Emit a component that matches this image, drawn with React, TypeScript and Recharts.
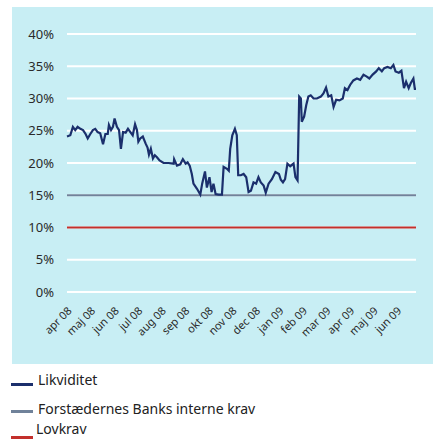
import React from 'react';
import { LineChart, Line, XAxis, YAxis, CartesianGrid, ReferenceLine } from 'recharts';

// months since start of april 2008
const MONTHS = [
  0, 0.14, 0.25, 0.35, 0.45, 0.57, 0.68, 0.79, 0.88, 0.99, 1.1, 1.2, 1.3, 1.41, 1.53, 1.63, 1.73, 1.78, 1.87, 1.95,
  2.02, 2.12, 2.21, 2.29, 2.38, 2.49, 2.59, 2.69, 2.79, 2.89, 2.97, 3.03, 3.11, 3.22, 3.34, 3.42, 3.48, 3.56, 3.65, 3.73,
  3.82, 3.93, 4.1, 4.31, 4.53, 4.55, 4.67, 4.81, 4.92, 5.04, 5.12, 5.21, 5.3, 5.37, 5.52, 5.66, 5.74, 5.86, 5.94, 6.05,
  6.14, 6.22, 6.31, 6.44, 6.58, 6.65, 6.79, 6.87, 6.93, 7.02, 7.13, 7.21, 7.27, 7.38, 7.5, 7.61, 7.71, 7.81, 7.92, 8.03,
  8.13, 8.23, 8.35, 8.44, 8.56, 8.7, 8.85, 9.0, 9.08, 9.17, 9.26, 9.36, 9.48, 9.62, 9.7, 9.79, 9.86, 9.93, 9.97, 10.07,
  10.16, 10.25, 10.35, 10.47, 10.61, 10.78, 10.89, 11.0, 11.1, 11.22, 11.32, 11.43, 11.57, 11.71, 11.8, 11.91, 12.02, 12.16, 12.31, 12.45,
  12.59, 12.73, 12.84, 12.98, 13.13, 13.24, 13.37, 13.47, 13.61, 13.75, 13.86, 13.95, 14.09, 14.2, 14.31, 14.4, 14.51, 14.6, 14.71, 14.77,
  14.82,
];

const LIKVIDITET = [
  24.1, 24.3, 25.6, 25.1, 25.6, 25.3, 25.1, 24.5, 23.8, 24.5, 25.1, 25.3, 24.8, 24.6, 22.9, 24.5, 24.5, 25.9, 25.1, 25.6,
  26.9, 25.6, 25.1, 22.2, 24.8, 24.7, 25.3, 24.8, 24.3, 26.0, 25.1, 23.3, 23.8, 24.1, 23.0, 22.4, 21.3, 22.2, 20.7, 21.2,
  20.9, 20.4, 20.0, 20.0, 19.9, 20.6, 19.6, 19.8, 20.6, 19.9, 20.1, 19.6, 18.3, 16.8, 16.0, 15.1, 16.8, 18.7, 16.2, 17.8,
  15.5, 16.8, 15.2, 15.1, 15.1, 19.4, 19.1, 18.8, 22.2, 24.3, 25.3, 24.3, 18.1, 18.1, 18.3, 17.8, 15.5, 15.7, 17.0, 16.8,
  17.8, 17.0, 16.5, 15.4, 16.8, 17.5, 18.6, 18.3, 17.4, 17.0, 17.5, 19.9, 19.5, 19.9, 17.8, 17.3, 30.3, 30.0, 26.4, 27.2,
  29.0, 30.3, 30.5, 30.0, 30.0, 30.3, 30.8, 31.7, 30.3, 30.5, 28.7, 29.8, 29.7, 30.0, 31.6, 31.3, 32.1, 32.8, 33.1, 32.9,
  33.7, 33.4, 33.1, 33.7, 34.2, 34.7, 34.2, 34.7, 34.9, 34.7, 35.2, 34.2, 34.0, 34.3, 31.6, 32.6, 31.6, 32.4, 33.1, 31.5,
  31.5,
];

const TICK_LABELS = [
  'apr 08', 'maj 08', 'jun 08', 'jul 08', 'aug 08', 'sep 08', 'okt 08', 'nov 08',
  'dec 08', 'jan 09', 'feb 09', 'mar 09', 'apr 09', 'maj 09', 'jun 09',
];

const Y_TICKS = [0, 5, 10, 15, 20, 25, 30, 35, 40];
const INTERNAL_REQ = 15;
const LEGAL_REQ = 10;

const NAVY = '#1b2f6c';
const GREY = '#70829a';
const RED = '#c3302c';
const FONT = '"Noto Sans", "Open Sans", sans-serif';

const data = MONTHS.map((t, i) => ({ t, likviditet: LIKVIDITET[i] }));

const LegendRow = ({ color, label, top, lineTop, textLeft }: any) => (
  <div style={{ position: 'absolute', left: 11, top, height: 20 }}>
    <div style={{ position: 'absolute', left: 0, top: lineTop, width: 22, height: 3, background: color }} />
    <span style={{ position: 'absolute', left: textLeft - 11, top: 0, whiteSpace: 'nowrap', fontSize: 14, color: '#222', lineHeight: '20px' }}>
      {label}
    </span>
  </div>
);

export default function App() {
  return (
    <div style={{ position: 'absolute', left: 0, top: 0, width: 433, height: 439, background: '#fff', fontFamily: FONT, overflow: 'hidden' }}>
      <div style={{ position: 'absolute', left: 12, top: 7, width: 421, height: 357, background: '#c8eef4' }} />
      <div style={{ position: 'absolute', left: 0, top: 0 }}>
        <LineChart width={433} height={363} data={data} margin={{ top: 34, right: 17, left: 0, bottom: 11 }}>
          <CartesianGrid vertical={false} stroke="#ffffff" strokeWidth={2} />
          <XAxis
            dataKey="t"
            type="number"
            domain={[0, 14.82]}
            ticks={TICK_LABELS.map((_, i) => i)}
            tickFormatter={(v) => TICK_LABELS[v] ?? ''}
            axisLine={false}
            tickLine={false}
            tickSize={0}
            tickMargin={14}
            angle={-45}
            textAnchor="end"
            height={60}
            interval={0}
            tick={{ fontSize: 11, fill: '#2a2a2a', fontFamily: FONT }}
          />
          <YAxis
            domain={[0, 40]}
            ticks={Y_TICKS}
            tickFormatter={(v) => `${v}%`}
            axisLine={false}
            tickLine={false}
            tickSize={0}
            tickMargin={13}
            width={67}
            interval={0}
            tick={{ fontSize: 13, fill: '#2a2a2a', fontFamily: FONT }}
          />
          <ReferenceLine y={INTERNAL_REQ} stroke={GREY} strokeWidth={2} />
          <ReferenceLine y={LEGAL_REQ} stroke={RED} strokeWidth={2} />
          <Line
            type="linear"
            dataKey="likviditet"
            stroke={NAVY}
            strokeWidth={2.2}
            dot={false}
            isAnimationActive={false}
          />
        </LineChart>
      </div>
      <LegendRow color={NAVY} label="Likviditet" top={370} lineTop={13} textLeft={38} />
      <LegendRow color={GREY} label="Forstædernes Banks interne krav" top={399} lineTop={11} textLeft={38} />
      <LegendRow color={RED} label="Lovkrav" top={419} lineTop={17} textLeft={36} />
    </div>
  );
}
